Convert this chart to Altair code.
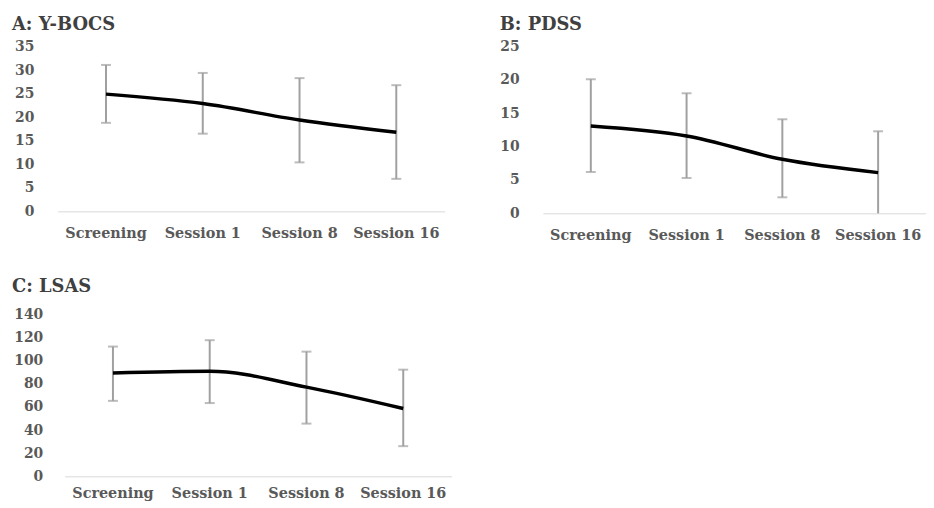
import altair as alt
import pandas as pd

sessions = ["Screening", "Session 1", "Session 8", "Session 16"]

ybocs_mean = [24.9, 22.9, 19.4, 16.8]
ybocs_upper = [31.1, 29.4, 28.3, 26.8]
ybocs_lower = [18.8, 16.5, 10.4, 6.9]

pdss_mean = [13.1, 11.6, 8.1, 6.1]
pdss_upper = [20.1, 18.0, 14.1, 12.3]
pdss_lower = [6.2, 5.3, 2.4, 0.0]

lsas_mean = [89.5, 90.9, 77.2, 58.7]
lsas_upper = [112.3, 117.8, 107.9, 92.3]
lsas_lower = [65.3, 63.4, 45.6, 26.1]

FONT = "DejaVu Serif"


def panel(title, mean, upper, lower, ymax, step, w, h, yext, ylabpad, xlabpad, toff, xshift=0):
    df = pd.DataFrame({"session": sessions, "mean": mean, "upper": upper, "lower": lower})
    caps = pd.DataFrame({"session": sessions * 2, "v": upper + lower})
    caps = caps[caps["v"] > 0]
    xaxis = alt.Axis(labelAngle=0, ticks=False, domain=True, domainColor="#d9d9d9",
                     domainWidth=1, labelPadding=xlabpad, grid=False, labelOverlap=False,
                     labelFontSize=14.5)
    xscale = alt.Scale(range=[xshift, w]) if xshift else alt.Scale()
    yscale = alt.Scale(domain=[0, ymax], nice=False, zero=True)
    yaxis = alt.Axis(values=list(range(0, ymax + 1, step)), domain=False, ticks=False, grid=False,
                     labelPadding=ylabpad, minExtent=yext, maxExtent=yext, title=None,
                     labelOverlap=False, labelFontSize=14)

    def X():
        return alt.X("session:N", sort=sessions, title=None, axis=xaxis, scale=xscale)

    def Y(field):
        return alt.Y(field, scale=yscale, axis=yaxis, title=None)

    bars = alt.Chart(df).mark_rule(color="#a0a0a0", strokeWidth=2).encode(
        x=X(), y=Y("lower:Q"), y2="upper:Q")
    capm = alt.Chart(caps).mark_tick(color="#a0a0a0", thickness=2, size=10).encode(
        x=X(), y=Y("v:Q"))
    line = alt.Chart(df).mark_line(color="black", strokeWidth=3.5, interpolate="monotone").encode(
        x=X(), y=Y("mean:Q"))
    return alt.layer(bars, capm, line).properties(
        width=w, height=h,
        title=alt.TitleParams(title, anchor="start", font=FONT, fontSize=18, fontWeight="bold",
                              color="#404040", offset=toff))


A = panel("A: Y-BOCS", ybocs_mean, ybocs_upper, ybocs_lower, 35, 5, 390, 166, 46, 24, 15, 6)
B = panel("B: PDSS", pdss_mean, pdss_upper, pdss_lower, 25, 5, 386, 168, 43, 24, 15, 6)
C = panel("C: LSAS", lsas_mean, lsas_upper, lsas_lower, 140, 20, 397, 163, 46, 15, 10, 12,
          xshift=7)

chart = alt.vconcat(alt.hconcat(A, B, spacing=55), alt.hconcat(C), spacing=36).properties(
    padding={"left": 4, "top": 6, "right": 0, "bottom": 0}
).configure(
    background="white",
    view=alt.ViewConfig(stroke=None),
    axis=alt.AxisConfig(labelFont=FONT, labelFontWeight="bold", labelColor="#595959"),
)

chart.save("out.html", embed_options={"renderer": "svg", "actions": False})
